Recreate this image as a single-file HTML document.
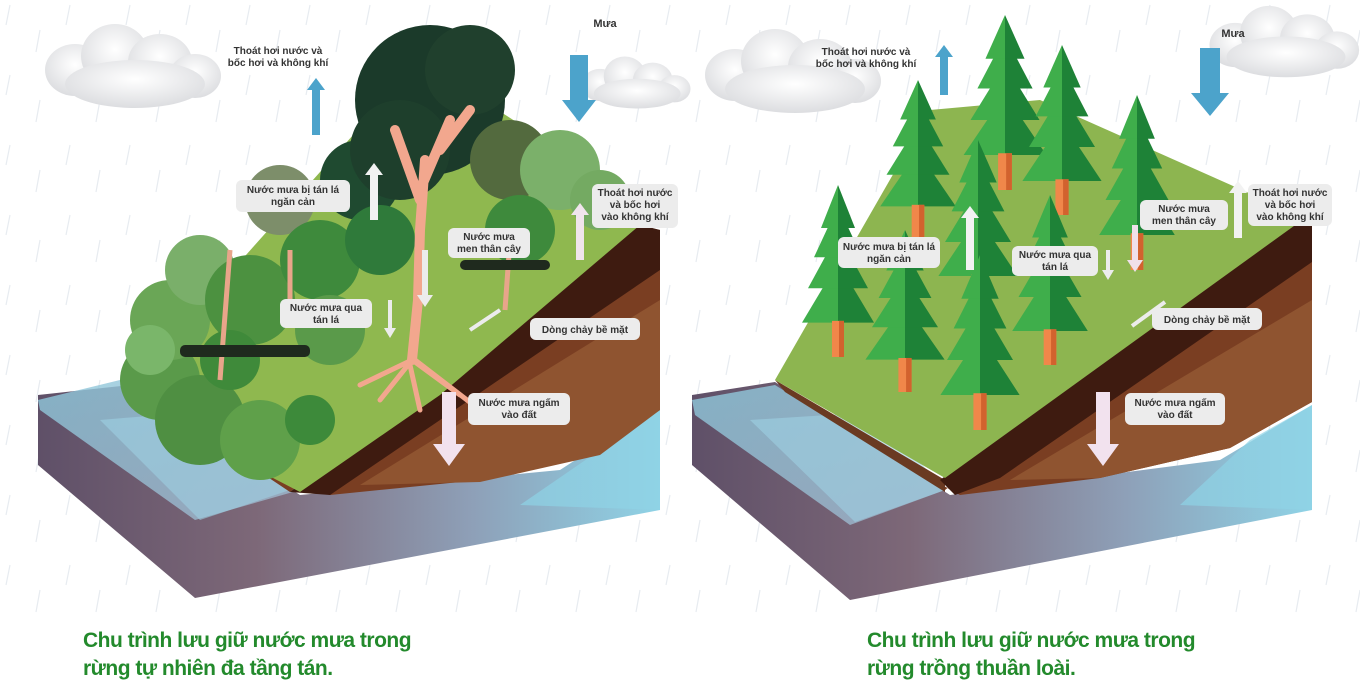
<!DOCTYPE html>
<html><head><meta charset="utf-8"><style>
html,body{margin:0;padding:0;background:#fff;width:1360px;height:699px;overflow:hidden}
svg{display:block}
.lb{font-family:"Liberation Sans",sans-serif;font-size:10px;font-weight:bold;fill:#333;text-anchor:middle}
.cap{position:absolute;font-family:"Liberation Sans Narrow","Liberation Sans",sans-serif;font-weight:bold;font-size:21px;color:#238a2c;line-height:28px;letter-spacing:-0.5px}
</style></head><body>
<svg width="1360" height="699" viewBox="0 0 1360 699" xmlns="http://www.w3.org/2000/svg">
<defs>
<linearGradient id="base" x1="0" y1="0" x2="1" y2="0">
<stop offset="0" stop-color="#5f5068"/><stop offset="0.35" stop-color="#7d6878"/><stop offset="0.7" stop-color="#8ea0b8"/><stop offset="1" stop-color="#8fd3e6"/></linearGradient>
<linearGradient id="wat" x1="0" y1="0" x2="1" y2="1">
<stop offset="0" stop-color="#8fc9dc"/><stop offset="1" stop-color="#9fb6cc"/></linearGradient>
<radialGradient id="cl" cx="0.5" cy="0.4" r="0.6"><stop offset="0" stop-color="#ffffff"/><stop offset="1" stop-color="#dcdde0"/></radialGradient>
<pattern id="rain" width="60" height="70" patternUnits="userSpaceOnUse">
<line x1="10" y1="5" x2="6" y2="25" stroke="#c9d3de" stroke-width="1.2"/>
<line x1="40" y1="30" x2="36" y2="52" stroke="#c9d3de" stroke-width="1.2"/>
</pattern>
<g id="pine">
<polygon points="0,45 -36,80 0,80" fill="#3fae4b"/><polygon points="0,45 36,80 0,80" fill="#1e8237"/>
<polygon points="0,28 -30,60 0,60" fill="#3fae4b"/><polygon points="0,28 30,60 0,60" fill="#1e8237"/>
<polygon points="0,12 -24,42 0,42" fill="#3fae4b"/><polygon points="0,12 24,42 0,42" fill="#1e8237"/>
<polygon points="0,0 -17,25 0,25" fill="#3fae4b"/><polygon points="0,0 17,25 0,25" fill="#1e8237"/>
<rect x="-6" y="79" width="12" height="21" fill="#f0874a"/><rect x="1" y="79" width="5" height="21" fill="#d2622e"/>
</g>
<g id="cloud">
<ellipse cx="0" cy="0" rx="30" ry="26" fill="url(#cl)"/>
<ellipse cx="40" cy="-14" rx="34" ry="32" fill="url(#cl)"/>
<ellipse cx="85" cy="-8" rx="32" ry="28" fill="url(#cl)"/>
<ellipse cx="120" cy="6" rx="26" ry="22" fill="url(#cl)"/>
<ellipse cx="60" cy="14" rx="70" ry="24" fill="url(#cl)"/>
</g>
</defs>
<rect width="1360" height="620" fill="url(#rain)" opacity="0.45"/>

<!-- ===== LEFT ===== -->
<polygon points="38,395 130,385 300,495 560,470 660,405 660,510 195,598 38,465" fill="url(#base)"/>
<polygon points="38,400 120,380 300,490 195,520 40,410" fill="url(#wat)" opacity="0.8"/>
<polygon points="100,420 220,410 290,490 200,520" fill="#9fd0e2" opacity="0.6"/>
<polygon points="600,450 660,405 660,510 520,505" fill="#8fd3e6" opacity="0.7"/>
<polygon points="130,385 290,492 640,225 660,230 660,410 600,450 480,480 330,495 250,470" fill="#7a3e22"/>
<polygon points="290,492 640,225 660,230 660,270 330,495" fill="#3e1b10"/>
<polygon points="360,485 660,300 660,410 600,455 480,482" fill="#8f5430"/>
<polygon points="130,385 200,440 300,492 440,395 640,225 560,150 420,60" fill="#8fb84f"/>
<g>
<circle cx="160" cy="380" r="40" fill="#5a9a4a"/><circle cx="200" cy="420" r="45" fill="#4f8f42"/>
<circle cx="260" cy="440" r="40" fill="#5fa04a"/><circle cx="170" cy="320" r="40" fill="#6aa656"/>
<circle cx="200" cy="270" r="35" fill="#7aaf6a"/><circle cx="250" cy="300" r="45" fill="#4c9140"/>
<circle cx="280" cy="200" r="35" fill="#7d8e6a"/><circle cx="320" cy="260" r="40" fill="#3e8a3c"/>
<circle cx="360" cy="180" r="40" fill="#1f4a30"/><circle cx="380" cy="240" r="35" fill="#2f7a3a"/>
<circle cx="430" cy="100" r="75" fill="#1b3a2a"/><circle cx="470" cy="70" r="45" fill="#20402d"/>
<circle cx="400" cy="150" r="50" fill="#1e3f2c"/>
<circle cx="510" cy="160" r="40" fill="#536a3e"/><circle cx="560" cy="170" r="40" fill="#7bb06a"/>
<circle cx="600" cy="200" r="30" fill="#74aa62"/><circle cx="520" cy="230" r="35" fill="#3e8a3c"/>
<circle cx="330" cy="330" r="35" fill="#5a9a4a"/><circle cx="230" cy="360" r="30" fill="#3f8a3a"/>
<circle cx="150" cy="350" r="25" fill="#7ab66a"/><circle cx="310" cy="420" r="25" fill="#3d8a3a"/>
</g>
<path d="M425,160 L420,230 L418,300 L412,360 M420,200 L395,130 M420,190 L450,120 M440,150 L470,110" stroke="#f2a78e" stroke-width="10" fill="none" stroke-linecap="round"/>
<path d="M412,360 L360,385 M412,360 L380,400 M415,362 L460,395 M415,360 L480,410 M410,365 L420,410" stroke="#f2a78e" stroke-width="5" fill="none" stroke-linecap="round"/>
<path d="M290,250 L290,320 M230,250 L220,380 M510,240 L505,310" stroke="#e8a58a" stroke-width="5" fill="none"/>
<rect x="180" y="345" width="130" height="12" rx="5" fill="#1f2a1e"/>
<rect x="460" y="260" width="90" height="10" rx="5" fill="#1f2a1e"/>
<use href="#cloud" transform="translate(75,70)"/>
<use href="#cloud" transform="translate(600,85) scale(0.62)"/>
<path d="M570,55 h18 v45 h8 l-17,22 l-17,-22 h8z" fill="#4ca3cb"/>
<path d="M312,135 v-45 h-5 l9,-12 l9,12 h-5 v45z" fill="#4ca3cb"/>
<path d="M370,220 v-45 h-5 l9,-12 l9,12 h-5 v45z" fill="#f2f2f2"/>
<path d="M576,260 v-45 h-5 l9,-12 l9,12 h-5 v45z" fill="#f0e4ec"/>
<path d="M422,250 v45 h-5 l8,12 l8,-12 h-5 v-45z" fill="#ececec"/>
<path d="M388,300 v28 h-4 l6,10 l6,-10 h-4 v-28z" fill="#ececec"/>
<path d="M500,310 L470,330" stroke="#ececec" stroke-width="4"/>
<path d="M442,392 h14 v52 h9 l-16,22 l-16,-22 h9z" fill="#f2e2ee"/>
<text class="lb" x="278" y="54">Thoát hơi nước và</text><text class="lb" x="278" y="66">bốc hơi và không khí</text>
<text class="lb" x="605" y="27" style="font-size:11px">Mưa</text>
<rect x="236" y="180" width="114" height="32" rx="6" fill="#ececec"/><text class="lb" x="293" y="193">Nước mưa bị tán lá</text><text class="lb" x="293" y="205">ngăn cản</text>
<rect x="592" y="184" width="86" height="44" rx="6" fill="#ececec"/><text class="lb" x="635" y="196">Thoát hơi nước</text><text class="lb" x="635" y="208">và bốc hơi</text><text class="lb" x="635" y="220">vào không khí</text>
<rect x="448" y="228" width="82" height="30" rx="6" fill="#ececec"/><text class="lb" x="489" y="240">Nước mưa</text><text class="lb" x="489" y="252">men thân cây</text>
<rect x="280" y="299" width="92" height="29" rx="6" fill="#ececec"/><text class="lb" x="326" y="311">Nước mưa qua</text><text class="lb" x="326" y="323">tán lá</text>
<rect x="530" y="318" width="110" height="22" rx="6" fill="#ececec"/><text class="lb" x="585" y="333">Dòng chảy bề mặt</text>
<rect x="468" y="393" width="102" height="32" rx="6" fill="#ececec"/><text class="lb" x="519" y="406">Nước mưa ngấm</text><text class="lb" x="519" y="418">vào đất</text>

<!-- ===== RIGHT ===== -->
<polygon points="692,395 775,382 950,495 1220,460 1312,405 1312,510 850,600 692,465" fill="url(#base)"/>
<polygon points="692,400 775,385 945,490 850,525 695,415" fill="url(#wat)" opacity="0.8"/>
<polygon points="750,420 875,412 945,490 855,522" fill="#9fd0e2" opacity="0.6"/>
<polygon points="1250,440 1312,405 1312,510 1180,505" fill="#8fd3e6" opacity="0.7"/>
<polygon points="775,380 945,490 1300,215 1312,222 1312,402 1230,448 1100,478 960,495 880,450" fill="#7a3e22"/>
<polygon points="775,380 945,480 945,492 785,392" fill="#6a3a22"/>
<polygon points="940,480 1300,215 1312,222 1312,262 1000,478 955,495" fill="#3e1b10"/>
<polygon points="1010,480 1312,300 1312,402 1230,448 1100,478" fill="#8f5430"/>
<polygon points="775,380 945,478 1305,218 1040,100 930,110" fill="#8db550"/>
<g>
<use href="#pine" transform="translate(1005,15) scale(1.15,1.75)"/>
<use href="#pine" transform="translate(918,80) scale(1.05,1.58)"/>
<use href="#pine" transform="translate(1062,45) scale(1.1,1.7)"/>
<use href="#pine" transform="translate(1137,95) scale(1.05,1.75)"/>
<use href="#pine" transform="translate(838,185) scale(1.0,1.72)"/>
<use href="#pine" transform="translate(978,140) scale(1.1,1.7)"/>
<use href="#pine" transform="translate(905,230) scale(1.1,1.62)"/>
<use href="#pine" transform="translate(1050,195) scale(1.05,1.7)"/>
<use href="#pine" transform="translate(980,255) scale(1.1,1.75)"/>
</g>
<use href="#cloud" transform="translate(735,75)"/>
<use href="#cloud" transform="translate(1235,45) scale(0.85)"/>
<path d="M1200,48 h20 v45 h9 l-19,23 l-19,-23 h9z" fill="#4ca3cb"/>
<path d="M940,95 v-38 h-5 l9,-12 l9,12 h-5 v38z" fill="#4ca3cb"/>
<path d="M966,270 v-52 h-5 l9,-12 l9,12 h-5 v52z" fill="#f2f2f2"/>
<path d="M1234,238 v-45 h-5 l9,-12 l9,12 h-5 v45z" fill="#f2f2f2"/>
<path d="M1132,225 v35 h-5 l8,12 l8,-12 h-5 v-35z" fill="#f0e0ea"/>
<path d="M1106,250 v20 h-4 l6,10 l6,-10 h-4 v-20z" fill="#ececec"/>
<path d="M1165,302 L1132,326" stroke="#ececec" stroke-width="4"/>
<path d="M1096,392 h14 v52 h9 l-16,22 l-16,-22 h9z" fill="#f2e2ee"/>
<text class="lb" x="866" y="55">Thoát hơi nước và</text><text class="lb" x="866" y="67">bốc hơi và không khí</text>
<text class="lb" x="1233" y="37" style="font-size:11px">Mưa</text>
<rect x="838" y="237" width="102" height="31" rx="6" fill="#ececec"/><text class="lb" x="889" y="250">Nước mưa bị tán lá</text><text class="lb" x="889" y="262">ngăn cản</text>
<rect x="1140" y="200" width="88" height="30" rx="6" fill="#ececec"/><text class="lb" x="1184" y="212">Nước mưa</text><text class="lb" x="1184" y="224">men thân cây</text>
<rect x="1248" y="184" width="84" height="42" rx="6" fill="#ececec"/><text class="lb" x="1290" y="196">Thoát hơi nước</text><text class="lb" x="1290" y="208">và bốc hơi</text><text class="lb" x="1290" y="220">vào không khí</text>
<rect x="1012" y="246" width="86" height="30" rx="6" fill="#ececec"/><text class="lb" x="1055" y="258">Nước mưa qua</text><text class="lb" x="1055" y="270">tán lá</text>
<rect x="1152" y="308" width="110" height="22" rx="6" fill="#ececec"/><text class="lb" x="1207" y="323">Dòng chảy bề mặt</text>
<rect x="1125" y="393" width="100" height="32" rx="6" fill="#ececec"/><text class="lb" x="1175" y="406">Nước mưa ngấm</text><text class="lb" x="1175" y="418">vào đất</text>
</svg>
<div class="cap" style="left:83px;top:627px">Chu trình lưu giữ nước mưa trong<br>rừng tự nhiên đa tầng tán.</div>
<div class="cap" style="left:867px;top:627px">Chu trình lưu giữ nước mưa trong<br>rừng trồng thuần loài.</div>
</body></html>
